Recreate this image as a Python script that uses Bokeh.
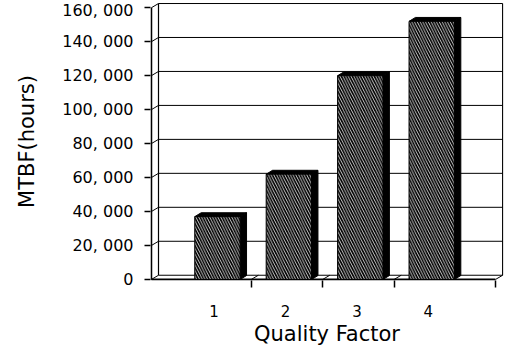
from bokeh.plotting import figure
from bokeh.models import FixedTicker, Range1d
from bokeh.embed import file_html
from bokeh.resources import INLINE

# ---- data ----
categories = [1, 2, 3, 4]
category_labels = ["1", "2", "3", "4"]
mtbf_hours = [37000, 62000, 120000, 152000]
y_ticks = [0, 20000, 40000, 60000, 80000, 100000, 120000, 140000, 160000]
y_tick_labels = ["0", "20, 000", "40, 000", "60, 000", "80, 000",
                 "100, 000", "120, 000", "140, 000", "160, 000"]

# ---- geometry / style constants ----
X0 = 0.122            # front-left corner of the floor
X_FRONT_END = 4.94    # front-right corner of the floor
WALL_DX, WALL_DY = 0.10, 2500
BAR_DX, BAR_DY = 0.09, 2300
BAR_W = 0.635
BAR_SHIFT = 0.047
BOUNDARY_OFF = 0.52
Y_TOP = y_ticks[-1]
FONT = "DejaVu Sans"

p = figure(width=505, height=348, output_backend="svg", toolbar_location=None,
           x_range=Range1d(X0 - 0.012, X_FRONT_END + WALL_DX + 0.012),
           y_range=Range1d(-600, Y_TOP + WALL_DY + 600),
           min_border_left=150, min_border_right=2, min_border_top=2,
           min_border_bottom=62)
p.outline_line_color = None
p.xgrid.visible = False
p.ygrid.visible = False
p.background_fill_color = "white"
p.border_fill_color = "white"

xb0 = X0 + WALL_DX
xb1 = X_FRONT_END + WALL_DX

# back-wall grid lines and connectors to the front axis
p.segment(x0=[X0] * len(y_ticks), y0=y_ticks,
          x1=[xb0] * len(y_ticks), y1=[v + WALL_DY for v in y_ticks],
          line_color="black", line_width=1)
p.segment(x0=[xb0] * len(y_ticks), y0=[v + WALL_DY for v in y_ticks],
          x1=[xb1] * len(y_ticks), y1=[v + WALL_DY for v in y_ticks],
          line_color="black", line_width=1)
# back wall verticals
p.segment(x0=[xb0, xb1], y0=[WALL_DY, WALL_DY],
          x1=[xb0, xb1], y1=[Y_TOP + WALL_DY, Y_TOP + WALL_DY],
          line_color="black", line_width=1.2)
# floor slants at category boundaries and right corner
boundaries = [c + BOUNDARY_OFF for c in categories[:-1]] + [X_FRONT_END]
p.segment(x0=boundaries, y0=[0] * len(boundaries),
          x1=[b + WALL_DX for b in boundaries], y1=[WALL_DY] * len(boundaries),
          line_color="black", line_width=1)
# front floor line and y axis line
p.segment(x0=[X0, X0], y0=[0, 0], x1=[X_FRONT_END, X0], y1=[0, Y_TOP],
          line_color="black", line_width=1.8)

# bars (3D boxes)
lefts = [c + BAR_SHIFT - BAR_W / 2 for c in categories]
rights = [c + BAR_SHIFT + BAR_W / 2 for c in categories]
side_xs, side_ys, top_xs, top_ys = [], [], [], []
for l, r, v in zip(lefts, rights, mtbf_hours):
    side_xs.append([r, r + BAR_DX, r + BAR_DX, r])
    side_ys.append([0, BAR_DY, v + BAR_DY, v])
    top_xs.append([l, l + BAR_DX, r + BAR_DX, r])
    top_ys.append([v, v + BAR_DY, v + BAR_DY, v])
p.patches(xs=side_xs, ys=side_ys, fill_color="black", line_color="black", line_width=1)
p.patches(xs=top_xs, ys=top_ys, fill_color="black", line_color="black", line_width=1)
p.quad(left=lefts, right=rights, bottom=[0] * 4, top=mtbf_hours,
       fill_color="black", line_color="black", line_width=1,
       hatch_pattern="left_diagonal_line", hatch_color="white",
       hatch_weight=0.8, hatch_scale=5.5)

# x axis
xa = p.xaxis[0]
xa.ticker = FixedTicker(ticks=categories, minor_ticks=boundaries)
xa.major_label_overrides = {c: l for c, l in zip(categories, category_labels)}
xa.axis_line_color = None
xa.major_tick_line_color = None
xa.major_tick_out = 0
xa.major_tick_in = 0
xa.minor_tick_out = 7
xa.minor_tick_in = 0
xa.minor_tick_line_color = "black"
xa.minor_tick_line_width = 1.5
xa.major_label_standoff = 17
xa.major_label_text_font = FONT
xa.major_label_text_font_size = "15px"
xa.major_label_text_color = "black"
xa.axis_label = "Quality Factor"
xa.axis_label_text_font = FONT
xa.axis_label_text_font_size = "21px"
xa.axis_label_text_font_style = "normal"
xa.axis_label_text_color = "black"
xa.axis_label_standoff = 2

# y axis
ya = p.yaxis[0]
ya.ticker = FixedTicker(ticks=y_ticks, minor_ticks=[])
ya.major_label_overrides = {t: l for t, l in zip(y_ticks, y_tick_labels)}
ya.axis_line_color = None
ya.major_tick_line_color = "black"
ya.major_tick_line_width = 1.5
ya.major_tick_out = 6
ya.major_tick_in = 0
ya.minor_tick_line_color = None
ya.major_label_standoff = 11
ya.major_label_text_font = FONT
ya.major_label_text_font_size = "16px"
ya.major_label_text_color = "black"
ya.axis_label = "MTBF(hours)"
ya.axis_label_text_font = FONT
ya.axis_label_text_font_size = "21px"
ya.axis_label_text_font_style = "normal"
ya.axis_label_text_color = "black"
ya.axis_label_standoff = 20

open("out.html", "w").write(file_html(p, INLINE))
